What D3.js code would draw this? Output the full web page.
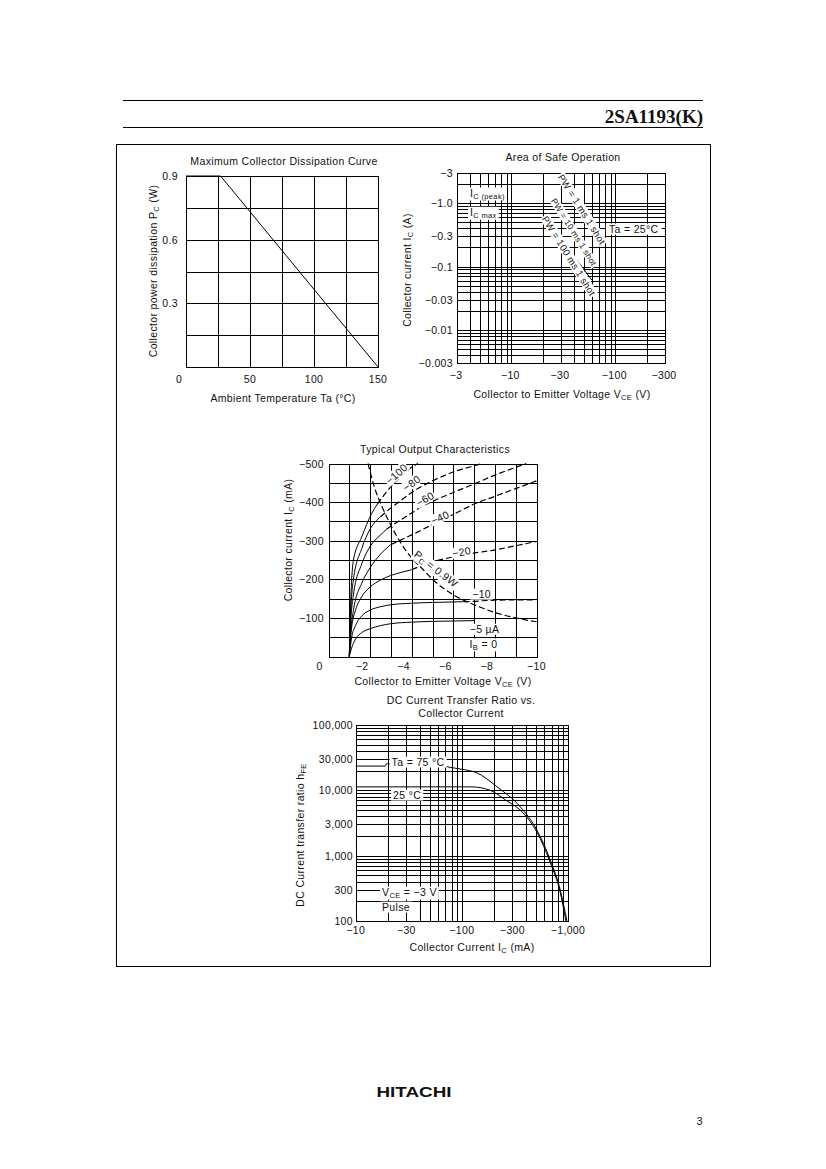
<!DOCTYPE html>
<html>
<head>
<meta charset="utf-8">
<script src="https://cdn.jsdelivr.net/npm/d3@7"></script>
<style>
  body { margin: 0; background: #fff; }
  svg text { font-family: "Liberation Sans", Arial, Helvetica, sans-serif; fill: #111; letter-spacing: 0.35px; }
</style>
</head>
<body>
<script>
/* global d3 */

// ---- Maximum Collector Dissipation Curve ----
const dissTemp = [0, 27, 150]
const dissPower = [0.9, 0.9, 0]
const dissXTicks = [0, 50, 100, 150]
const dissYTicks = [0.3, 0.6, 0.9]
const dissXGrid = [25, 50, 75, 100, 125]
const dissYGrid = [0.15, 0.3, 0.45, 0.6, 0.75]

// ---- Area of Safe Operation ----
const asoXTicks = [3, 10, 30, 100, 300]
const asoXLabels = ['−3', '−10', '−30', '−100', '−300']
const asoYTicks = [3, 1, 0.3, 0.1, 0.03, 0.01, 0.003]
const asoYLabels = ['−3', '−1.0', '−0.3', '−0.1', '−0.03', '−0.01', '−0.003']
const asoLine1 = [[26.8, 1.12], [65, 0.102]]
const asoLine2 = [[24, 0.436], [59.5, 0.061]]
const asoPwLabels = ['PW = 1 ms 1 shot', 'PW = 10 ms 1 shot', 'PW = 100 ms 1 shot']
const asoPwPos = [[47.5, 0.8], [40, 0.35], [35.7, 0.147]]

// ---- Typical Output Characteristics ----
const outXTicks = [0, -2, -4, -6, -8, -10]
const outYTicks = [-100, -200, -300, -400, -500]
const ib5Solid = [[1.0, 0], [1.1, 20], [1.3, 45], [1.6, 62], [2, 72], [2.5, 80], [3, 85], [4, 89], [5, 91], [6, 92], [7, 93]]
const ib10Solid = [[1.0, 0], [1.1, 45], [1.3, 80], [1.6, 105], [2, 120], [2.5, 129], [3, 134], [4, 138], [5, 140], [6.5, 142]]
const ib10Dashed = [[6.5, 142], [7, 143], [8, 146], [10, 147]]
const ib20Solid = [[1.0, 0], [1.1, 70], [1.3, 120], [1.6, 155], [2, 180], [2.5, 198], [3, 210], [3.5, 218], [4, 225]]
const ib20Dashed = [[4, 225], [5, 245], [6, 258], [7, 268], [8, 276], [9, 287], [10, 298]]
const ib40Solid = [[1.0, 0], [1.05, 50], [1.2, 120], [1.6, 190], [2, 230], [2.5, 265], [3, 290]]
const ib40Dashed = [[3, 290], [4, 315], [5, 342], [6, 368], [7, 395], [8, 415], [9, 435], [10, 455]]
const ib60Solid = [[1.0, 0], [1.05, 70], [1.2, 160], [1.6, 240], [2, 285], [2.5, 315], [2.8, 330]]
const ib60Dashed = [[2.8, 330], [3.5, 355], [4, 372], [4.6, 392], [5, 402], [6, 425], [7, 447], [8, 470], [9, 490], [9.5, 500]]
const ib80Solid = [[1.0, 0], [1.05, 90], [1.2, 200], [1.6, 280], [2, 330], [2.5, 362]]
const ib80Dashed = [[2.5, 362], [3, 385], [3.5, 405], [4, 425], [5, 455], [6, 478], [7, 494], [7.4, 500]]
const ib100Solid = [[1.0, 0], [1.05, 110], [1.2, 250], [1.6, 310], [2.08, 371], [2.35, 395]]
const ib100Dashed = [[2.35, 395], [3, 440], [3.5, 468], [4, 490], [4.3, 500]]
const pcCurve = [[1.9, 500], [2.2, 440], [2.6, 385], [3, 340], [3.5, 292], [4, 255], [4.5, 228], [5, 200], [6, 160], [7, 134], [8, 114], [9, 100], [10, 90]]
const outCurveLabels = ['−100', '−80', '−60', '−40', '−20']
const outCurveLabelPos = [[3.27, 473], [4.0, 449], [4.64, 408], [5.36, 360], [6.4, 271]]
const outCurveLabelAngle = [-42, -36, -30, -24, -12]

// ---- DC Current Transfer Ratio ----
const hfeXTicks = [10, 30, 100, 300, 1000]
const hfeXLabels = ['−10', '−30', '−100', '−300', '−1,000']
const hfeYTicks = [100000, 30000, 10000, 3000, 1000, 300, 100]
const hfeYLabels = ['100,000', '30,000', '10,000', '3,000', '1,000', '300', '100']
const hfe75 = [[10, 23500], [19, 23500], [19.5, 25500], [40, 25500], [60, 24500], [77, 22500], [100, 21000], [138, 18600], [214, 11350], [355, 5600], [509, 2470], [681, 857], [846, 297], [977, 100]]
const hfe25 = [[10, 11300], [50, 11300], [124, 11300], [185, 10000], [259, 7080], [381, 4450], [509, 2300], [681, 780], [846, 270], [955, 100]]

const svg = d3.select('body').append('svg').attr('width', 826).attr('height', 1169)
const px = (v) => Math.round(v) + 0.5
const FS = 10.5

// ---- helpers ----
function grid (g, x, y, xs, ys) {
  const [y0, y1] = y.range()
  const [x0, x1] = x.range()
  const gg = g.append('g').attr('stroke', '#000').attr('stroke-width', 1).attr('shape-rendering', 'crispEdges')
  gg.selectAll('.gx').data(xs).join('line')
    .attr('x1', (d) => px(x(d))).attr('x2', (d) => px(x(d)))
    .attr('y1', y0).attr('y2', y1)
  gg.selectAll('.gy').data(ys).join('line')
    .attr('y1', (d) => px(y(d))).attr('y2', (d) => px(y(d)))
    .attr('x1', x0).attr('x2', x1)
  gg.append('rect')
    .attr('x', px(x0)).attr('y', px(y1))
    .attr('width', Math.round(x1) - Math.round(x0)).attr('height', Math.round(y0) - Math.round(y1))
    .attr('fill', 'none')
}

function rich (t, parts) {
  let sub = false
  parts.forEach(([s, isSub]) => {
    const sp = t.append('tspan').text(s)
    if (isSub) sp.attr('font-size', '7.5px')
    if (isSub && !sub) sp.attr('dy', 2)
    else if (!isSub && sub) sp.attr('dy', -2)
    sub = isSub
  })
  return t
}

function label (g, x, y, str, anchor = 'middle', size = FS) {
  return g.append('text').attr('x', x).attr('y', y).attr('text-anchor', anchor)
    .attr('font-size', size + 'px').text(str)
}

function boxBehind (g, t, pad = 1) {
  const b = t.node().getBBox()
  g.insert('rect', () => t.node())
    .attr('x', b.x - pad).attr('y', b.y + 0.5).attr('width', b.width + pad * 2).attr('height', b.height - 1)
    .attr('fill', '#fff')
  return t
}

// white-boxed label, optionally rotated, centred on (cx, cy)
function tag (g, cx, cy, angle, parts, size = FS, pad = 1.5) {
  const tg = g.append('g').attr('transform', `translate(${cx},${cy}) rotate(${angle})`)
  const t = label(tg, 0, size * 0.36, '', 'middle', size)
  rich(t, typeof parts === 'string' ? [[parts, false]] : parts)
  boxBehind(tg, t, pad)
  return tg
}

// ---- page decorations ----
const page = svg.append('g').attr('shape-rendering', 'crispEdges')
page.append('line').attr('x1', 123).attr('x2', 703).attr('y1', 100.5).attr('y2', 100.5).attr('stroke', '#000')
page.append('line').attr('x1', 123).attr('x2', 703).attr('y1', 127.5).attr('y2', 127.5).attr('stroke', '#000').attr('stroke-width', 1.3)
svg.append('text').attr('x', 703).attr('y', 123).attr('text-anchor', 'end')
  .style('font-family', '"Liberation Serif", "Times New Roman", serif').style('letter-spacing', '0px')
  .attr('font-size', '19px').attr('font-weight', 'bold').text('2SA1193(K)')
page.append('rect').attr('x', 116.5).attr('y', 144.5).attr('width', 594).attr('height', 822)
  .attr('fill', 'none').attr('stroke', '#000')
svg.append('text').attr('x', 414).attr('y', 1097).attr('text-anchor', 'middle').style('letter-spacing', '0px')
  .attr('font-size', '14px').attr('font-weight', 'bold').attr('textLength', 75).attr('lengthAdjust', 'spacingAndGlyphs')
  .text('HITACHI')
svg.append('text').attr('x', 703).attr('y', 1125).attr('text-anchor', 'end').attr('font-size', '11px').text('3')

// ---- chart 1: dissipation ----
{
  const g = svg.append('g')
  const x = d3.scaleLinear().domain([0, 150]).range([186, 378])
  const y = d3.scaleLinear().domain([0, 0.9]).range([367, 176])
  grid(g, x, y, dissXGrid, dissYGrid)
  g.append('path').datum(dissTemp.map((t, i) => [t, dissPower[i]]))
    .attr('fill', 'none').attr('stroke', '#000').attr('stroke-width', 1)
    .attr('d', d3.line().x((d) => x(d[0])).y((d) => y(d[1])))
  dissXTicks.forEach((v) => label(g, v === 0 ? x(v) - 7 : x(v), 383, String(v)))
  dissYTicks.forEach((v) => label(g, 178, y(v) + 4, v.toFixed(1), 'end'))
  label(g, 284, 165, 'Maximum Collector Dissipation Curve')
  label(g, 283, 402, 'Ambient Temperature  Ta  (°C)')
  rich(label(g, 0, 0, '').attr('transform', 'translate(157,271) rotate(-90)'),
    [['Collector power dissipation  P', false], ['C', true], ['  (W)', false]])
}

// ---- chart 2: area of safe operation ----
{
  const g = svg.append('g')
  const x = d3.scaleLog().domain([3, 300]).range([457, 665])
  const y = d3.scaleLog().domain([0.003, 3]).range([363, 173])
  grid(g, x, y, x.ticks(), y.ticks())
  const line = d3.line().x((d) => x(d[0])).y((d) => y(d[1]))
  ;[asoLine1, asoLine2].forEach((l) => {
    g.append('path').datum(l).attr('fill', 'none').attr('stroke', '#000').attr('d', line)
  })
  asoPwLabels.forEach((s, i) => {
    const [vx, vy] = asoPwPos[i]
    tag(g, x(vx), y(vy), 58, s, i === 1 ? 8.5 : 9.5, 1)
  })
  asoXTicks.forEach((v, i) => label(g, x(v) - 1, 379, asoXLabels[i]))
  asoYTicks.forEach((v, i) => label(g, 453, y(v) + 4, asoYLabels[i], 'end'))
  label(g, 563, 161, 'Area of Safe Operation')
  rich(label(g, 562, 398, ''), [['Collector to Emitter Voltage  V', false], ['CE', true], ['  (V)', false]])
  rich(label(g, 0, 0, '').attr('transform', 'translate(411,270) rotate(-90)'),
    [['Collector current  I', false], ['C', true], ['  (A)', false]])
  const tp = rich(label(g, x(4), y(1.45) + 4, '', 'start'), [['I', false], ['C (peak)', true]])
  boxBehind(g, tp, 2)
  const tm = rich(label(g, x(4), y(0.72) + 4, '', 'start'), [['I', false], ['C max', true]])
  boxBehind(g, tm, 2)
  boxBehind(g, label(g, x(86.6), y(0.391) + 4, 'Ta = 25°C', 'start'), 3)
}

// ---- chart 3: output characteristics ----
{
  const g = svg.append('g')
  const x = d3.scaleLinear().domain([0, 10]).range([328.5, 536.5])
  const y = d3.scaleLinear().domain([0, 500]).range([656.5, 463.5])
  grid(g, x, y, d3.range(1, 10), d3.range(50, 500, 50))
  const line = d3.line().x((d) => x(d[0])).y((d) => y(d[1])).curve(d3.curveMonotoneX)
  const solids = [ib5Solid, ib10Solid, ib20Solid, ib40Solid, ib60Solid, ib80Solid, ib100Solid]
  const dashes = [ib10Dashed, ib20Dashed, ib40Dashed, ib60Dashed, ib80Dashed, ib100Dashed, pcCurve]
  solids.forEach((c) => {
    g.append('path').datum(c).attr('fill', 'none').attr('stroke', '#000').attr('stroke-width', 1).attr('d', line)
  })
  dashes.forEach((c) => {
    g.append('path').datum(c).attr('fill', 'none').attr('stroke', '#000').attr('stroke-width', 1.2)
      .attr('stroke-dasharray', '6,3').attr('d', line)
  })
  outCurveLabels.forEach((s, i) => {
    const [vx, vy] = outCurveLabelPos[i]
    tag(g, x(vx), y(vy), outCurveLabelAngle[i], s, FS, 1)
  })
  tag(g, x(5.17), y(227), 38, [['P', false], ['C', true], [' = 0.9W', false]], FS, 1)
  tag(g, x(7.36), y(161), 0, '−10', FS, 2)
  tag(g, x(7.5), y(70), 0, '−5 µA', FS, 2)
  tag(g, x(7.45), y(32), 0, [['I', false], ['B', true], [' = 0', false]], FS, 2)
  outXTicks.forEach((v) => label(g, v === 0 ? x(v) - 9 : (v === -10 ? x(-v) : x(-v) - 8), 670, v === 0 ? '0' : '−' + (-v)))
  outYTicks.forEach((v) => label(g, 324, y(-v) + 4, '−' + (-v), 'end'))
  label(g, 435, 453, 'Typical Output Characteristics')
  rich(label(g, 443, 685, ''), [['Collector to Emitter Voltage  V', false], ['CE', true], ['  (V)', false]])
  rich(label(g, 0, 0, '').attr('transform', 'translate(292,540) rotate(-90)'),
    [['Collector current  I', false], ['C', true], ['  (mA)', false]])
}

// ---- chart 4: hFE ----
{
  const g = svg.append('g')
  const x = d3.scaleLog().domain([10, 1000]).range([355.7, 568])
  const y = d3.scaleLog().domain([100, 100000]).range([921, 725])
  grid(g, x, y, x.ticks(), y.ticks())
  const line = d3.line().x((d) => x(d[0])).y((d) => y(d[1])).curve(d3.curveMonotoneX)
  ;[hfe75, hfe25].forEach((c) => {
    g.append('path').datum(c).attr('fill', 'none').attr('stroke', '#000').attr('stroke-width', 1).attr('d', line)
  })
  boxBehind(g, label(g, x(38.7), y(27100) + 4, 'Ta = 75 °C'), 2)
  boxBehind(g, label(g, x(30.5), y(8470) + 4, '25 °C'), 2)
  const vce = rich(label(g, x(17.7), y(277) + 4, '', 'start'), [['V', false], ['CE', true], [' = −3 V', false]])
  boxBehind(g, vce, 2)
  boxBehind(g, label(g, x(17.7), y(163) + 4, 'Pulse', 'start'), 2)
  hfeXTicks.forEach((v, i) => label(g, x(v), 934, hfeXLabels[i]))
  hfeYTicks.forEach((v, i) => label(g, 353, y(v) + 4, hfeYLabels[i], 'end'))
  label(g, 461, 704, 'DC Current Transfer Ratio vs.')
  label(g, 461, 717, 'Collector Current')
  rich(label(g, 472, 951, ''), [['Collector Current  I', false], ['C', true], ['  (mA)', false]])
  rich(label(g, 0, 0, '').attr('transform', 'translate(304,835) rotate(-90)'),
    [['DC Current transfer ratio  h', false], ['FE', true]])
}
</script>
</body>
</html>
